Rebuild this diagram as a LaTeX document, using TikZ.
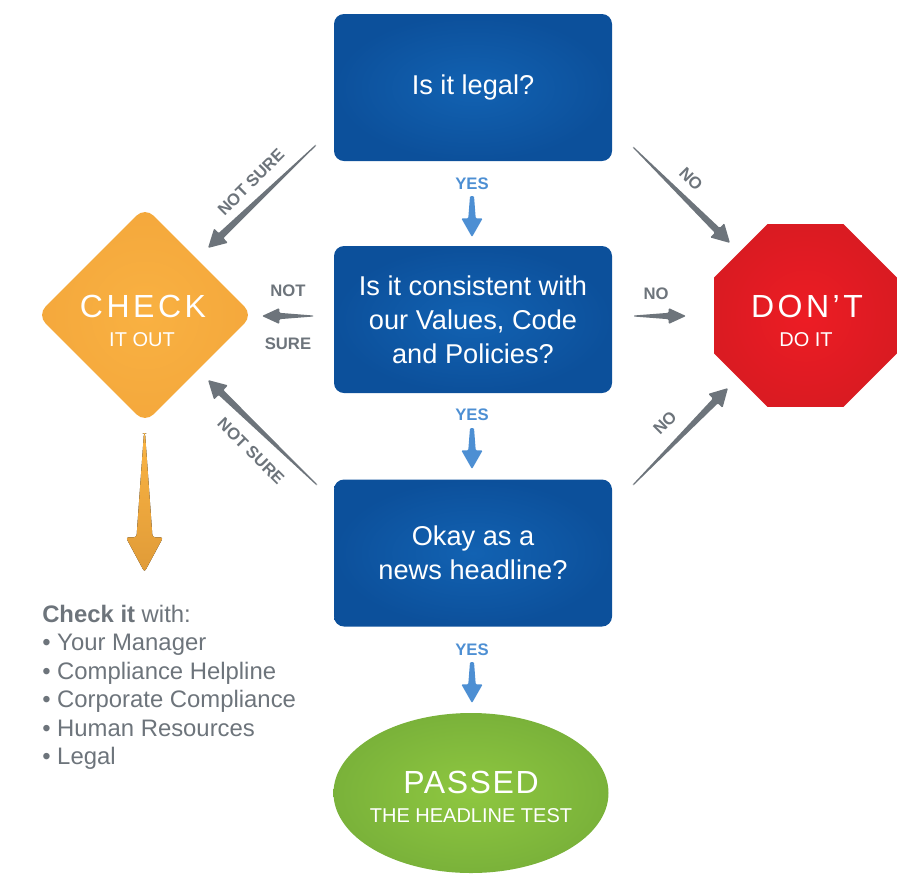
\documentclass[tikz,border=0pt]{standalone}
\usepackage{fontspec}
\setmainfont{Liberation Sans}
\newfontfamily\spaced[LetterSpace=11]{Liberation Sans}
\newfontfamily\spacedb[LetterSpace=5]{Liberation Sans}
\usetikzlibrary{shapes.geometric,calc}
\definecolor{boxin}{HTML}{1262B2}
\definecolor{boxout}{HTML}{0C509B}
\definecolor{orin}{HTML}{F9B142}
\definecolor{orout}{HTML}{F4A83C}
\definecolor{redin}{HTML}{ED1C24}
\definecolor{redout}{HTML}{DA1B22}
\definecolor{grin}{HTML}{8EC740}
\definecolor{grout}{HTML}{7AB23A}
\definecolor{arrgray}{HTML}{6D747B}
\definecolor{yesblue}{HTML}{4D8FD3}
\definecolor{ortop}{HTML}{FAB443}
\definecolor{orbot}{HTML}{E09B38}
\newcommand\taparrow[7]{%
  \fill[#7] ($(#1)!#3!90:(#2)$) -- ($(#2)!#6!(#1)!#4!90:(#2)$) -- ($(#2)!#6!(#1)!#5!90:(#2)$)
   -- (#2) -- ($(#2)!#6!(#1)!#5!-90:(#2)$) -- ($(#2)!#6!(#1)!#4!-90:(#2)$) -- ($(#1)!#3!-90:(#2)$) -- cycle;}
\tikzset{
  qbox/.style={rectangle, rounded corners=7.5pt, minimum width=208.5pt, minimum height=110.25pt,
    inner color=boxin, outer color=boxout, text=white, align=center, inner sep=0pt,
    font=\fontsize{20.4}{25.5}\selectfont},
  chkshape/.style={diamond, aspect=1, minimum width=162pt, minimum height=162pt, inner sep=0pt,
    rounded corners=9pt, inner color=orin, outer color=orout},
  stopshape/.style={regular polygon, regular polygon sides=8, minimum size=148.5pt, inner sep=0pt,
    inner color=redin, outer color=redout},
  passshape/.style={ellipse, minimum width=206.25pt, minimum height=120pt, inner sep=0pt,
    inner color=grin, outer color=grout},
  bigtxt/.style={text=white, inner sep=0pt, font=\spaced\fontsize{24}{28}\selectfont},
  smalltxt/.style={text=white, inner sep=0pt, font=\fontsize{15}{18}\selectfont},
  glabel/.style={text=arrgray, inner sep=0pt, font=\bfseries\fontsize{12.5}{15}\selectfont},
  ylabel/.style={text=yesblue, inner sep=0pt, font=\bfseries\fontsize{12.5}{15}\selectfont},
  garrow/.style={fill=arrgray, rounded corners=0.8pt},
  barrow/.style={fill=yesblue, rounded corners=0.8pt},
  oarrow/.style={top color=ortop, bottom color=orbot, rounded corners=2pt},
  listtext/.style={text=arrgray, align=left, inner sep=0pt, font=\fontsize{17.9}{21.3}\selectfont}
}
\begin{document}
\begin{tikzpicture}[x=0.75pt,y=-0.75pt]
\useasboundingbox (0,0) rectangle (911,876);
% question boxes
\node[qbox] (q1) at (473,87.5) {Is it legal?};
\node[qbox] (q2) at (473,319.5) {Is it consistent with\\our Values, Code\\and Policies?};
\node[qbox] (q3) at (473,553) {Okay as a\\news headline?};
% outcome shapes
\node[chkshape] (chk) at (145,315) {};
\node[bigtxt] (chkA) at (143,306) {CHECK};
\node[smalltxt] (chkB) at (142,340) {IT OUT};
\node[stopshape] (stop) at (805.5,315.5) {};
\node[bigtxt] (stopA) at (807,306) {DON’T};
\node[smalltxt] (stopB) at (806,340) {DO IT};
\node[passshape] (pass) at (471,793) {};
\node[bigtxt, font=\spacedb\fontsize{24}{28}\selectfont] (passA) at (471,782) {PASSED};
\node[smalltxt] (passB) at (471,816) {THE HEADLINE TEST};
% YES arrows
\coordinate (y1s) at (472,196); \coordinate (y1e) at (472,237);
\coordinate (y2s) at (472,428); \coordinate (y2e) at (472,469);
\coordinate (y3s) at (472,662); \coordinate (y3e) at (472,703);
\taparrow{y1s}{y1e}{1.5pt}{2.8pt}{8pt}{14pt}{barrow}
\taparrow{y2s}{y2e}{1.5pt}{2.8pt}{8pt}{14pt}{barrow}
\taparrow{y3s}{y3e}{1.5pt}{2.8pt}{8pt}{14pt}{barrow}
\node[ylabel] (yes1) at (472,184) {YES};
\node[ylabel] (yes2) at (472,415) {YES};
\node[ylabel] (yes3) at (472,650) {YES};
% NOT SURE arrows
\coordinate (n1s) at (316,145); \coordinate (n1e) at (208,248);
\coordinate (n2s) at (313,316); \coordinate (n2e) at (262,316);
\coordinate (n3s) at (317,485); \coordinate (n3e) at (208,380);
\taparrow{n1s}{n1e}{0.4pt}{2.6pt}{7.5pt}{13.5pt}{garrow}
\taparrow{n2s}{n2e}{0.4pt}{2.4pt}{6pt}{13pt}{garrow}
\taparrow{n3s}{n3e}{0.4pt}{2.6pt}{7.5pt}{13.5pt}{garrow}
\node[glabel, rotate=45] (ns1) at (251,182) {NOT SURE};
\node[glabel] (ns2a) at (288,291) {NOT};
\node[glabel] (ns2b) at (288,344) {SURE};
\node[glabel, rotate=-45] (ns3) at (251,451) {NOT SURE};
% NO arrows
\coordinate (o1s) at (633,147); \coordinate (o1e) at (730,243);
\coordinate (o2s) at (634,316); \coordinate (o2e) at (686,316);
\coordinate (o3s) at (633,485); \coordinate (o3e) at (728,388);
\taparrow{o1s}{o1e}{0.4pt}{2.6pt}{7.5pt}{13.5pt}{garrow}
\taparrow{o2s}{o2e}{0.4pt}{2.4pt}{6pt}{13pt}{garrow}
\taparrow{o3s}{o3e}{0.4pt}{2.6pt}{7.5pt}{13.5pt}{garrow}
\node[glabel, rotate=-45] (no1) at (691,179) {NO};
\node[glabel] (no2) at (656,294) {NO};
\node[glabel, rotate=45] (no3) at (665,423) {NO};
% orange arrow
\coordinate (cs) at (144.5,433); \coordinate (ce) at (144.5,572);
\taparrow{cs}{ce}{0.4pt}{6pt}{14pt}{26pt}{oarrow}
% list
\node[listtext, anchor=north west] (list) at (42,605) {\textbf{Check it} with:\\• Your Manager\\• Compliance Helpline\\• Corporate Compliance\\• Human Resources\\• Legal};
\end{tikzpicture}
\end{document}
